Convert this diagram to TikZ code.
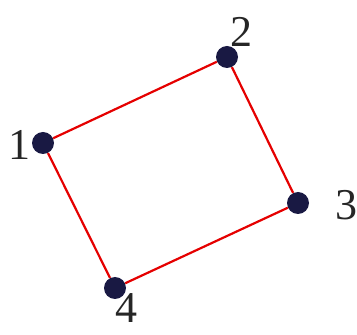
\documentclass[tikz,border=0pt]{standalone}
\usepackage{fontspec}
\setmainfont{Liberation Serif}
\usepackage{xcolor}
\usetikzlibrary{positioning}

\begin{document}
\begin{tikzpicture}[
  x=1pt, y=1pt,
  vtx/.style={
    circle, inner sep=0pt, minimum size=22pt,
    fill=black!82!blue!90
  },
  lbl/.style={
    inner sep=0pt, text=black!85,
    font=\fontsize{44}{44}\selectfont
  },
  edge/.style={red!90!black, line width=2.2pt}
]
  \useasboundingbox (0,0) rectangle (357,335);

  \node[vtx] (n1) at (43,192) {};
  \node[vtx] (n2) at (227,278) {};
  \node[vtx] (n3) at (298,132) {};
  \node[vtx] (n4) at (115,47) {};

  \foreach \a/\b in {n1/n2, n2/n3, n3/n4, n4/n1}
    \draw[edge] (\a) -- (\b);

  \node[lbl] (l1) at (20,190) {1};
  \node[lbl] (l2) at (241,303) {2};
  \node[lbl] (l3) at (346,130) {3};
  \node[lbl] (l4) at (126,27) {4};
\end{tikzpicture}
\end{document}
